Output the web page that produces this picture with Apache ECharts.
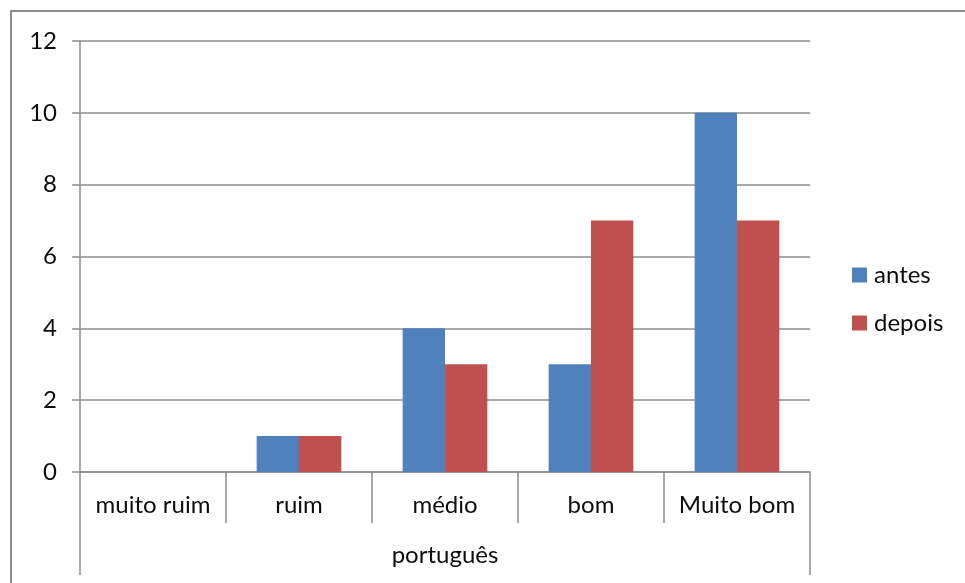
<!DOCTYPE html>
<html>
<head>
<meta charset="utf-8">
<title>português</title>
<script src="https://cdn.jsdelivr.net/npm/echarts@6/dist/echarts.min.js"></script>
<style>
  html, body { margin: 0; padding: 0; background: #fff; }
  #wrap { position: relative; width: 965px; height: 583px; overflow: hidden; }
  #wrap::before {
    content: ""; position: absolute; left: 10px; top: 10px; right: -10px; bottom: -10px;
    border-left: 2px solid #8c8c8c; border-top: 2px solid #8c8c8c; pointer-events: none; z-index: 2;
  }
  #chart { width: 965px; height: 583px; }
</style>
</head>
<body>
<div id="wrap"><div id="chart"></div></div>
<script>
// Ratings for Portuguese, before and after
const categories = ['muito ruim', 'ruim', 'médio', 'bom', 'Muito bom'];
const groupLabel = ['português'];
const antes = [0, 1, 4, 3, 10];
const depois = [0, 1, 3, 7, 7];
const yTicks = { min: 0, max: 12, interval: 2 };

const FONT = 'Lato';
const AXIS_GRAY = '#8c8c8c';
const TEXT = '#0d0d0d';

const chart = echarts.init(document.getElementById('chart'), null, { renderer: 'canvas' });

chart.setOption({
  animation: false,
  backgroundColor: 'transparent',
  textStyle: { fontFamily: FONT },
  grid: { left: 80, right: 155, top: 41, bottom: 111, containLabel: false },
  legend: {
    orient: 'vertical',
    left: 852,
    top: 263,
    padding: 0,
    itemWidth: 15,
    itemHeight: 15,
    itemGap: 24,
    icon: 'rect',
    textStyle: { fontFamily: FONT, fontSize: 24, color: TEXT, padding: [0, 0, 0, 2] },
    data: ['antes', 'depois']
  },
  xAxis: [
    {
      type: 'category',
      data: categories,
      position: 'bottom',
      axisLine: { show: true, lineStyle: { color: AXIS_GRAY, width: 1.5 } },
      axisTick: { show: true, interval: 0, alignWithLabel: false, length: 51, lineStyle: { color: AXIS_GRAY, width: 1.5 } },
      axisLabel: { interval: 0, hideOverlap: false, fontFamily: FONT, fontSize: 24, color: TEXT, margin: 21 },
      splitLine: { show: false }
    },
    {
      type: 'category',
      data: groupLabel,
      position: 'bottom',
      axisLine: { show: false },
      axisTick: { show: true, interval: 0, alignWithLabel: false, length: 103, lineStyle: { color: AXIS_GRAY, width: 1.5 } },
      axisLabel: { interval: 0, fontFamily: FONT, fontSize: 24, color: TEXT, margin: 71 },
      splitLine: { show: false }
    }
  ],
  yAxis: {
    type: 'value',
    min: yTicks.min,
    max: yTicks.max,
    interval: yTicks.interval,
    axisLine: { show: true, lineStyle: { color: AXIS_GRAY, width: 1.5 } },
    axisTick: { show: true, length: 8, inside: false, lineStyle: { color: AXIS_GRAY, width: 1.5 } },
    axisLabel: { fontFamily: FONT, fontSize: 24, color: TEXT, margin: 23 },
    splitLine: { show: true, lineStyle: { color: AXIS_GRAY, width: 1.5 } }
  },
  series: [
    {
      name: 'antes',
      type: 'bar',
      xAxisIndex: 0,
      data: antes,
      barGap: '0%',
      barCategoryGap: '42%',
      itemStyle: { color: '#4F81BD' }
    },
    {
      name: 'depois',
      type: 'bar',
      xAxisIndex: 0,
      data: depois,
      barGap: '0%',
      barCategoryGap: '42%',
      itemStyle: { color: '#C0504D' }
    }
  ]
});
</script>
</body>
</html>
